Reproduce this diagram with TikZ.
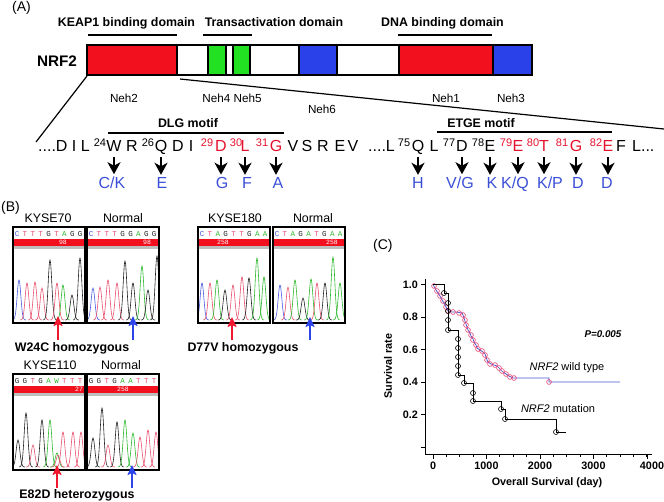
\documentclass[tikz,border=0pt]{standalone}
\usepackage{fontspec}
\setmainfont{Liberation Sans}
\setmonofont{Liberation Mono}
\usetikzlibrary{arrows.meta,calc}
\definecolor{barred}{HTML}{F2101F}
\definecolor{bargreen}{HTML}{22E022}
\definecolor{barblue}{HTML}{2A40E8}
\definecolor{seqred}{HTML}{E5122E}
\definecolor{seqblue}{HTML}{3A4FD8}
\definecolor{trA}{HTML}{2CB82C}
\definecolor{trC}{HTML}{4A5AE0}
\definecolor{trG}{HTML}{222222}
\definecolor{trT}{HTML}{E8506E}
\definecolor{arrred}{HTML}{F0182E}
\definecolor{arrblue}{HTML}{2C44E8}
\definecolor{kmred}{HTML}{E83C6C}
\definecolor{kmblue}{HTML}{4A58D0}
\newcommand\myfs[1]{\fontsize{#1}{#1}\selectfont}
\newcommand\chrom[6]{%
\begin{scope}[shift={#2}]
  \begin{scope}
    \clip (0,0) rectangle (72,96);
    \foreach \px/\py/\pc in {#6} {\draw[trace,\pc] plot[domain=-7:7,samples=23,smooth] ({\px+\x},{93-(93-\py)*exp(-(\x/2.6)^2)});}
  \end{scope}
  \fill[barred] (1,12) rectangle (71,19);
  \fill[black!25] (1,19) rectangle (71,22);
  \node[hnum] (#1num) at (#5,15.6) {#4};
  \foreach \lt/\lc [count=\i from 0] in {#3} {\node[hlet,text=\lc] at ({4+\i*7.9},7.5) {\lt};}
  \node[cframe] (#1) at (36,48) {};
\end{scope}}
\begin{document}
\begin{tikzpicture}[x=1pt,y=-1pt,
  title/.style={font=\myfs{12.4}\bfseries,inner sep=0,anchor=base},
  lbl/.style={font=\myfs{12.4},inner sep=0,anchor=base},
  plabel/.style={font=\myfs{14},inner sep=0,anchor=base west},
  neh/.style={font=\myfs{11.7},inner sep=0,anchor=base},
  res/.style={font=\myfs{16},inner sep=0,anchor=base},
  resr/.style={res,text=seqred},
  sup/.style={font=\myfs{11},inner sep=0,anchor=base},
  supr/.style={sup,text=seqred},
  mutl/.style={font=\myfs{16},text=seqblue,inner sep=0,anchor=base},
  mutarrow/.style={line width=2.6pt,shorten >=2pt,-{Stealth[length=12pt,width=13pt,inset=3.5pt]}},
  seg/.style={draw=black,line width=1.3pt},
  rule/.style={line width=1.2pt},
  trace/.style={line width=0.6pt},
  hnum/.style={font=\ttfamily\myfs{6.5},text=white,inner sep=0},
  hlet/.style={font=\ttfamily\myfs{7.5},inner sep=0},
  cframe/.style={draw=black,line width=1.5pt,minimum width=72pt,minimum height=96pt,inner sep=0},
  redarrow/.style={arrred,line width=2pt,-{Stealth[length=10pt,width=9pt,inset=2pt]}},
  bluearrow/.style={arrblue,line width=2pt,-{Stealth[length=10pt,width=9pt,inset=2pt]}},
  axis/.style={line width=1pt},
  tick/.style={font=\myfs{10.8}\bfseries,inner sep=0},
  kmw/.style={draw=kmred,line width=0.6pt},
  kmm/.style={draw=black,line width=0.6pt}
]
\useasboundingbox (0,0) rectangle (664,501);
% ---------------- Panel A
\node[plabel] (pA) at (12,11) {(A)};
\node[title] (tKeap) at (126.5,26) {KEAP1 binding domain};
\node[title] (tTrans) at (274,26) {Transactivation domain};
\node[title] (tDNA) at (442.5,26) {DNA binding domain};
\draw[rule] (88,35) -- (177,35);
\draw[rule] (203,35) -- (252,35);
\draw[rule] (398,35) -- (492,35);
\node[font=\myfs{15.3}\bfseries,inner sep=0,anchor=base] (nrf) at (57,66) {NRF2};
\foreach \a/\b/\c in {87/177/barred,177/208/white,208/226/bargreen,226/233/white,233/250/bargreen,250/299/white,299/337/barblue,337/399/white,399/493/barred,493/532/barblue}
  \filldraw[fill=\c,seg] (\a,45) rectangle (\b,75);
\node[neh] (n2) at (124,102) {Neh2};
\node[neh] (n45) at (232,102) {Neh4 Neh5};
\node[neh] (n6) at (322,113) {Neh6};
\node[neh] (n1) at (446,102) {Neh1};
\node[neh] (n3) at (511,102) {Neh3};
\coordinate (zl1) at (87,76);
\coordinate (zl2) at (36,142);
\coordinate (zr1) at (180,79);
\coordinate (zr2) at (664,129);
\draw[rule] (zl1) -- (zl2);
\draw[rule] (zr1) -- (zr2);
\node[title] (dlg) at (188,127) {DLG motif};
\node[title] (etge) at (481,127) {ETGE motif};
\draw[rule] (108,133) -- (284,133);
\draw[rule] (437,132) -- (612,132);
% sequence
\node[res,anchor=base west] (sL1) at (38,151) {....D I L};
\node[sup] (s24) at (100,146) {24};
\node[res] (r24) at (114,151) {W};
\node[res] (rR1) at (132,151) {R};
\node[sup] (s26) at (148,146) {26};
\node[res] (r26) at (161,151) {Q};
\node[res] (rD1) at (178,151) {D};
\node[res] (rI1) at (191,151) {I};
\node[supr] (s29) at (207,146) {29};
\node[resr] (r29) at (221,151) {D};
\node[supr] (s30) at (236,146) {30};
\node[resr] (r30) at (245,151) {L};
\node[supr] (s31) at (262,146) {31};
\node[resr] (r31) at (276,151) {G};
\node[res] (rV1) at (293,151) {V};
\node[res] (rS1) at (307,151) {S};
\node[res] (rR2) at (323,151) {R};
\node[res] (rE1) at (340,151) {E};
\node[res] (rV2) at (353,151) {V};
\node[res,anchor=base west] (sL2) at (368,151) {....L};
\node[sup] (s75) at (404,146) {75};
\node[res] (r75) at (418,151) {Q};
\node[res] (rL3) at (434,151) {L};
\node[sup] (s77) at (449,146) {77};
\node[res] (r77) at (462,151) {D};
\node[sup] (s78) at (478,146) {78};
\node[res] (r78) at (490,151) {E};
\node[supr] (s79) at (506,146) {79};
\node[resr] (r79) at (518,151) {E};
\node[supr] (s80) at (533,146) {80};
\node[resr] (r80) at (544,151) {T};
\node[supr] (s81) at (562,146) {81};
\node[resr] (r81) at (576,151) {G};
\node[supr] (s82) at (596,146) {82};
\node[resr] (r82) at (608,151) {E};
\node[res] (rF) at (621,151) {F};
\node[res,anchor=base west] (sL3) at (632,151) {L...};
% mutations
\node[mutl] (m24) at (112,188) {C/K};
\node[mutl] (m26) at (162,188) {E};
\node[mutl] (m29) at (222,188) {G};
\node[mutl] (m30) at (247,188) {F};
\node[mutl] (m31) at (278,188) {A};
\node[mutl] (m75) at (418,188) {H};
\node[mutl] (m77) at (460,188) {V/G};
\node[mutl] (m78) at (492,188) {K};
\node[mutl] (m79) at (515,188) {K/Q};
\node[mutl] (m80) at (550,188) {K/P};
\node[mutl] (m81) at (578,188) {D};
\node[mutl] (m82) at (607,188) {D};
\foreach \r/\m in {r24/m24,r26/m26,r29/m29,r30/m30,r31/m31,r75/m75,r77/m77,r78/m78,r79/m79,r80/m80,r81/m81,r82/m82}
  \draw[mutarrow] (\r.base) ++(0,6) -- (\r.base |- \m.north);
% ---------------- Panel B
\node[plabel] (pB) at (1,211) {(B)};
\node[lbl] (l70) at (48,222) {KYSE70};
\node[lbl] (l70n) at (123,222) {Normal};
\node[lbl] (l180) at (235,222) {KYSE180};
\node[lbl] (l180n) at (313,222) {Normal};
\node[lbl] (l110) at (50,369) {KYSE110};
\node[lbl] (l110n) at (121,369) {Normal};
\chrom{c1}{(13,227)}{C/trC,T/trT,T/trT,T/trT,G/trG,T/trT,A/trA,G/trG,G/trG}{98}{50}
  {6/53/trC,14/56/trT,22/55/trT,29/61/trT,37/33/trG,44/56/trT,50/58/trA,59/68/trG,67/31/trG}
\chrom{c2}{(87,227)}{C/trC,T/trT,T/trT,T/trT,G/trG,G/trG,A/trA,G/trG,G/trG}{98}{60}
  {6/61/trC,13/60/trT,21/53/trT,30/56/trT,38/34/trG,46/56/trG,55/39/trA,61/63/trG,70/29/trG}
\chrom{c3}{(198,227)}{C/trC,T/trT,A/trA,G/trG,T/trT,T/trT,G/trG,A/trA,A/trA}{258}{25}
  {4/56/trC,12/56/trT,19/53/trA,27/63/trG,35/58/trT,44/50/trT,51/51/trG,59/31/trA,66/50/trA}
\chrom{c4}{(273,227)}{C/trC,T/trT,A/trA,G/trG,A/trA,T/trT,G/trG,A/trA,A/trA}{258}{59}
  {7/58/trC,15/60/trT,22/53/trA,30/71/trG,38/52/trA,44/56/trT,52/56/trG,60/30/trA,67/56/trA}
\chrom{c5}{(13,374)}{G/trG,G/trG,T/trT,G/trG,A/trA,W/trA,T/trT,T/trT,T/trT}{27}{66}
  {5/66/trG,13/39/trG,20/71/trT,29/46/trG,37/46/trA,44/79/trA,45/81/trT,50/58/trT,60/58/trT,68/58/trT}
\chrom{c6}{(87,374)}{G/trG,G/trG,T/trT,G/trG,A/trA,A/trA,T/trT,T/trT,T/trT}{258}{36}
  {6/64/trG,15/34/trG,21/71/trT,30/48/trG,38/46/trA,46/59/trA,53/63/trT,61/56/trT,69/58/trT}
\coordinate (ra1) at (58,340); \coordinate (ra1t) at (58,316);
\coordinate (ba1) at (133,340); \coordinate (ba1t) at (133,316);
\coordinate (ra2) at (232,340); \coordinate (ra2t) at (232,317);
\coordinate (ba2) at (310,340); \coordinate (ba2t) at (310,317);
\coordinate (ra3) at (57,488); \coordinate (ra3t) at (57,465);
\coordinate (ba3) at (132,488); \coordinate (ba3t) at (132,465);
\draw[redarrow] (ra1) -- (ra1t);
\draw[bluearrow] (ba1) -- (ba1t);
\draw[redarrow] (ra2) -- (ra2t);
\draw[bluearrow] (ba2) -- (ba2t);
\draw[redarrow] (ra3) -- (ra3t);
\draw[bluearrow] (ba3) -- (ba3t);
\node[title] (w24c) at (72,351) {W24C homozygous};
\node[title] (d77v) at (243,351) {D77V homozygous};
\node[title] (e82d) at (77,498) {E82D heterozygous};
% ---------------- Panel C
\node[plabel] (pC) at (373,249) {(C)};
\draw[axis] (425,279) -- (425,454) -- (652,454);
\foreach \v/\l in {0/,0.2/0.2,0.4/0.4,0.6/0.6,0.8/0.8,1/1.0} {
  \draw[axis] (421,{447-\v*162.5}) -- (425,{447-\v*162.5});
  \node[tick,anchor=east] at (418,{447-\v*162.5}) {\l};
}
\foreach \d in {0,250,...,4000} \draw[axis] ({433+\d*0.0535},454) -- ({433+\d*0.0535},457);
\foreach \d in {0,1000,2000,3000} {
  \draw[axis] ({433+\d*0.0535},454) -- ({433+\d*0.0535},459);
  \node[tick,anchor=north] at ({433+\d*0.0535},462) {\d};
}
\draw[axis] (647,454) -- (647,459);
\node[tick,anchor=north] (x4000) at (652,462) {4000};
\node[font=\myfs{10.8}\bfseries,inner sep=0,anchor=base] (xlab) at (547,485) {Overall Survival (day)};
\node[font=\myfs{10.8}\bfseries,inner sep=0,rotate=90] (ylab) at (388,366) {Survival rate};
\node[font=\myfs{9.8}\bfseries\itshape,inner sep=0,anchor=base] (pval) at (603,337) {P=0.005};
\node[font=\myfs{11},inner sep=0,anchor=base] (wtlab) at (567,370) {\textit{NRF2} wild type};
\node[font=\myfs{11},inner sep=0,anchor=base] (mtlab) at (558,412) {\textit{NRF2} mutation};
% wild type curve
\draw[kmblue,line width=0.7pt] plot coordinates {(433,284.5) (436,290) (438,293) (440,296) (442,300) (444,303) (446,307) (448,311) (452,312) (456,312) (462,313) (463,315) (464,318) (465,321) (466,324) (467,327) (468,330) (470,333) (471,336) (473,339) (474,342) (476,345) (477,348) (480,350) (483,352) (485,354) (486,357) (487,360) (488,362) (491,364) (494,365) (497,366) (499,368) (501,370) (503,372) (506,374) (509,376) (513,378) (549,378) (549,382) (620,382)};
\foreach \p in {(434,286),(437,291),(440,296),(443,301),(446,307),(448,311),(453,312),(459,313),(463,315),(465,320),(466,325),(468,330),(471,335),(473,340),(476,345),(478,349),(482,351),(485,355),(487,360),(490,364),(495,365),(499,368),(502,371),(506,374),(510,377),(514,378),(549,382)}
  \draw[kmw] \p circle (2.4);
% mutation curve
\draw[black,line width=0.8pt] (433,284.5) -- (444,284.5) -- (444,293) -- (448,293) -- (448,330) -- (458,330) -- (458,375) -- (464,375) -- (464,383) -- (473,383) -- (473,401) -- (501,401) -- (501,409) -- (505,409) -- (505,419) -- (556,419) -- (556,432) -- (566,432);
\foreach \p in {(444,293),(448,303),(448,311),(448,320),(448,330),(458,339),(458,348),(458,357),(458,366),(458,375),(464,383),(473,393),(473,401),(501,409),(505,419),(556,432)}
  \draw[kmm] \p circle (2.5);
\end{tikzpicture}
\end{document}
